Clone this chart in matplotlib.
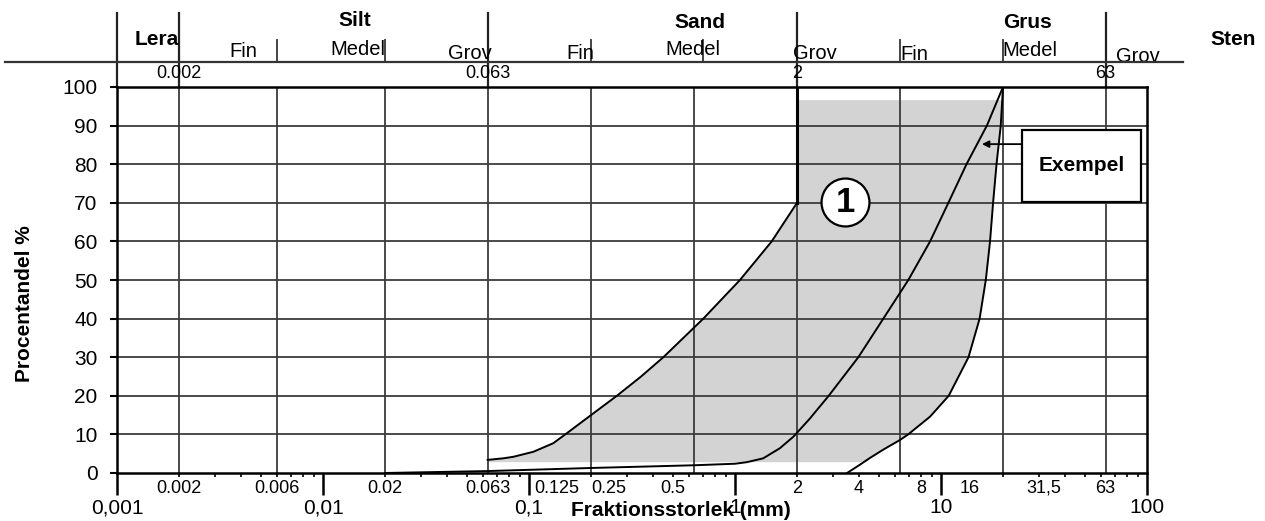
"""Kornfördelningskurva: gränskurvor (1) med exempelkurva."""
import matplotlib

matplotlib.use("Agg")
import matplotlib.pyplot as plt  # noqa: E402
import numpy as np
from matplotlib.lines import Line2D
from matplotlib.patches import Rectangle
from matplotlib.ticker import LogLocator, NullFormatter
from matplotlib.transforms import blended_transform_factory

plt.rcParams["font.family"] = ["Liberation Sans", "DejaVu Sans"]

GRID_DARK = "#3c3c3c"
FILL_GRAY = "#d3d3d3"

# left limit curve of area (1), mm / passing %
fine_x = [0.063, 0.075, 0.084, 0.105, 0.131, 0.15, 0.2, 0.267, 0.35, 0.449, 0.702, 1.057, 1.507, 2.0]
fine_y = [3.4, 3.8, 4.2, 5.5, 7.7, 10.0, 15.0, 20.0, 25.0, 30.0, 40.0, 50.0, 60.0, 70.0]

# example grading curve
ex_x = [0.02, 0.063, 0.2, 0.63, 1.0, 1.14, 1.37, 1.65, 1.92, 2.3, 2.85, 3.97,
        5.25, 6.94, 8.85, 10.86, 13.3, 16.7, 20.0]
ex_y = [0.0, 0.5, 1.3, 2.0, 2.4, 2.8, 3.8, 6.4, 9.4, 14.0, 20.0, 30.0,
        40.0, 50.0, 60.0, 70.0, 80.0, 90.0, 100.0]

# right limit curve of area (1)
coarse_x = [3.5, 4.0, 4.52, 5.3, 6.3, 6.93, 8.85, 10.9, 13.6, 15.4, 16.5, 17.3, 17.9, 18.6, 19.5, 20.0]
coarse_y = [0.0, 2.0, 3.9, 6.2, 8.5, 10.0, 14.6, 20.0, 30.0, 40.0, 50.0, 60.0, 70.0, 80.0, 90.0, 100.0]

# shaded band limits (%)
band_top = 96.6
band_bottom = 2.8

grid_x = [0.002, 0.006, 0.02, 0.063, 0.2, 0.63, 2, 6.3, 20, 63]
grid_y = list(range(10, 100, 10))

major_x = [0.001, 0.01, 0.1, 1, 10, 100]
major_labels = ["0,001", "0,01", "0,1", "1", "10", "100"]
sieve_x = [0.002, 0.006, 0.02, 0.063, 0.137, 0.244, 0.5, 2, 4, 8, 13.8, 31.5, 63]
sieve_labels = ["0.002", "0.006", "0.02", "0.063", "0.125", "0.25", "0.5",
                "2", "4", "8", "16", "31,5", "63"]

# fraction scale above the chart
long_div = [0.001, 0.002, 0.063, 2, 63]
short_div = [0.006, 0.02, 0.2, 0.7, 6.3, 20]
limit_x = [0.002, 0.063, 2, 63]
limit_labels = ["0.002", "0.063", "2", "63"]
main_names = ["Lera", "Silt", "Sand", "Grus", "Sten"]
main_x = [0.00156, 0.0143, 0.676, 26.4, 261]
main_ypos = [1.122, 1.171, 1.166, 1.166, 1.124]
sub_names = ["Fin", "Medel", "Grov"] * 3
sub_x = [0.00409, 0.0148, 0.0518, 0.177, 0.625, 2.44, 7.4, 27.0, 90.4]
sub_ypos = [1.091, 1.096, 1.088, 1.086, 1.096, 1.086, 1.083, 1.094, 1.078]

fig = plt.figure(figsize=(12.65, 5.21), dpi=100)
ax = fig.add_axes([117 / 1265, 48 / 521, 1030 / 1265, 386 / 521])
ax.set_xscale("log")
ax.set_xlim(0.001, 100)
ax.set_ylim(0, 100)

# shaded area (1)
right_levels = [band_top] + [v for v in coarse_y[::-1] if band_bottom < v < band_top] + [band_bottom]
right_edge = 10 ** np.interp(right_levels, coarse_y, np.log10(coarse_x))
poly_x = fine_x + [fine_x[-1]] + list(right_edge) + [fine_x[0]]
poly_y = fine_y + [band_top] + right_levels + [band_bottom]
ax.fill(poly_x, poly_y, color=FILL_GRAY, lw=0, zorder=0.5)

ax.vlines(grid_x, 0, 100, colors=GRID_DARK, lw=1.3, zorder=1)
ax.hlines(grid_y, 0.001, 100, colors=GRID_DARK, lw=1.3, zorder=1)

ax.plot(fine_x, fine_y, color="black", lw=1.4, zorder=3)
ax.plot([fine_x[-1], fine_x[-1]], [fine_y[-1], 100], color="black", lw=2.2, zorder=3)
ax.plot(ex_x, ex_y, color="black", lw=1.4, zorder=3)
ax.plot(coarse_x, coarse_y, color="black", lw=1.4, zorder=3)

# marker (1)
ax.plot(3.42, 70.2, "o", ms=34.5, mfc="white", mec="black", mew=1.6, zorder=4)
ax.text(3.42, 70.2, "1", ha="center", va="center", fontsize=25, fontweight="bold", zorder=5)

# Exempel label
ax.add_patch(Rectangle((24.7, 70.2), 93.6 - 24.7, 18.7, fc="white", ec="black", lw=1.6, zorder=4))
ax.text(np.sqrt(24.7 * 93.6), 79.6, "Exempel", ha="center", va="center",
        fontsize=15, fontweight="bold", zorder=5)
ax.annotate("", xy=(15.8, 85.2), xytext=(24.7, 85.2), zorder=5,
            arrowprops=dict(arrowstyle="-|>", color="black", lw=1.3,
                            mutation_scale=10, shrinkA=0, shrinkB=0))

# axes, ticks
for side in ax.spines.values():
    side.set_linewidth(1.8)
ax.set_xticks(major_x, major_labels)
ax.xaxis.set_minor_locator(LogLocator(base=10, subs=range(2, 10)))
ax.xaxis.set_minor_formatter(NullFormatter())
ax.tick_params(axis="x", which="major", direction="out", length=16, width=1.8, pad=2, labelsize=15)
ax.tick_params(axis="x", which="minor", direction="out", length=3, width=1.2)
ax.set_yticks(range(0, 101, 10))
ax.tick_params(axis="y", direction="out", length=5, width=1.5, pad=9, labelsize=15)

trans = blended_transform_factory(ax.transData, ax.transAxes)
for x, lab in zip(sieve_x, sieve_labels):
    ax.text(x, -0.039, lab, transform=trans, ha="center", va="center", fontsize=13)

# fraction scale on top
for x in long_div:
    ax.plot([x, x], [1.0, 1.192], transform=trans, color="#222222", lw=1.6, clip_on=False)
for x in short_div:
    ax.plot([x, x], [1.065, 1.122], transform=trans, color="#444444", lw=1.4, clip_on=False)
fig.add_artist(Line2D([5 / 1265, 1183 / 1265], [1 - 62 / 521] * 2, color="#333333", lw=1.6))
for x, lab in zip(limit_x, limit_labels):
    ax.text(x, 1.036, lab, transform=trans, ha="center", va="center", fontsize=13)
for x, yy, lab in zip(main_x, main_ypos, main_names):
    ax.text(x, yy, lab, transform=trans, ha="center", va="center", fontsize=15, fontweight="bold")
for x, yy, lab in zip(sub_x, sub_ypos, sub_names):
    ax.text(x, yy, lab, transform=trans, ha="center", va="center", fontsize=14.5)

fig.text(25 / 1265, 1 - 304 / 521, "Procentandel %", rotation=90, ha="center", va="center",
         fontsize=15, fontweight="bold")
fig.text(681 / 1265, 1 - 510 / 521, "Fraktionsstorlek (mm)", ha="center", va="center",
         fontsize=15, fontweight="bold")

fig.savefig("out.png", dpi=100)
plt.close(fig)
